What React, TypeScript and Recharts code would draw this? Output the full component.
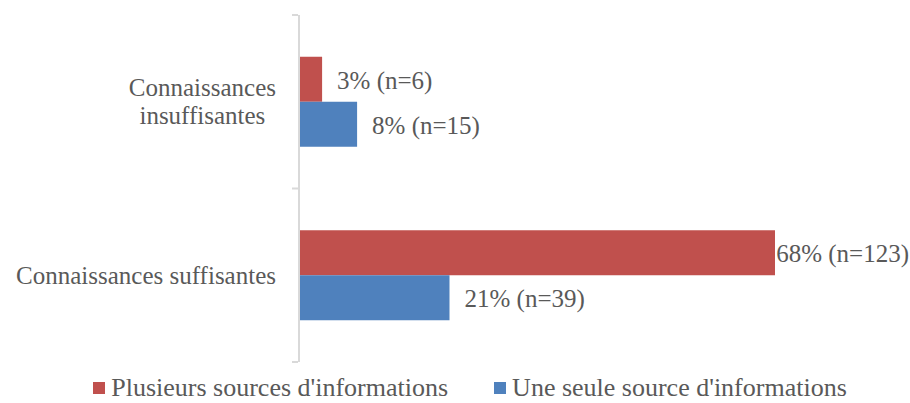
import React from 'react';
import { BarChart, Bar, XAxis, YAxis, Legend, LabelList } from 'recharts';

// ---- data ----
const categories = ['Connaissances insuffisantes', 'Connaissances suffisantes'];
const categoryLines = [['Connaissances', 'insuffisantes'], ['Connaissances suffisantes']];
const seriesNames = ["Plusieurs sources d'informations", "Une seule source d'informations"];
const plusieursValues = [3.3, 68.0];
const uneSeuleValues = [8.3, 21.5];
const plusieursLabels = ['3% (n=6)', '68% (n=123)'];
const uneSeuleLabels = ['8% (n=15)', '21% (n=39)'];
const xDomain = [0, 80];

const data = categories.map((c, i) => ({
  category: c,
  plusieurs: plusieursValues[i],
  uneSeule: uneSeuleValues[i],
  lblP: plusieursLabels[i],
  lblU: uneSeuleLabels[i],
}));

// ---- style ----
const W = 910;
const H = 403;
const FONT = "'Liberation Serif', 'Times New Roman', serif";
const FS = 25;
const LEG_FS = 26;
const TEXT = '#595959';
const AXIS = '#D9D9D9';
const RED = '#C0504D';
const BLUE = '#4F81BD';
const Y_W = 299;
const PLOT_TOP = 15;
const PLOT_BOTTOM = 362;
const LEGEND_H = 28;
const MARGIN = { top: PLOT_TOP, right: 51, bottom: H - PLOT_BOTTOM - LEGEND_H, left: 0 };

let ctx: CanvasRenderingContext2D | null = null;
function textWidth(s: string): number {
  if (!ctx) {
    const c = document.createElement('canvas');
    ctx = c.getContext('2d');
  }
  if (!ctx) return s.length * FS * 0.45;
  ctx.font = `${FS}px 'Liberation Serif'`;
  return ctx.measureText(s).width;
}

const CategoryTick = (props: any) => {
  const { y, payload } = props;
  const idx = categories.indexOf(payload?.value);
  const lines = categoryLines[idx >= 0 ? idx : 0];
  const band = (PLOT_BOTTOM - PLOT_TOP) / categories.length;
  const half = band / 2;
  const n = lines.length;
  const R = Y_W - 23;
  const capHalf = 8.3;
  const maxW = Math.max(...lines.map(textWidth));
  const isLast = idx === categories.length - 1;
  return (
    <g>
      <line x1={Y_W - 7} x2={Y_W - 1} y1={y - half} y2={y - half} stroke={AXIS} strokeWidth={2} />
      {isLast && (
        <line x1={Y_W - 7} x2={Y_W - 1} y1={y + half} y2={y + half} stroke={AXIS} strokeWidth={2} />
      )}
      {lines.map((ln, i) => (
        <text
          key={i}
          x={n === 1 ? R : R - maxW / 2}
          y={y + capHalf + (i - (n - 1) / 2) * 28}
          textAnchor={n === 1 ? 'end' : 'middle'}
          fill={TEXT}
          fontFamily={FONT}
          fontSize={FS}
        >
          {ln}
        </text>
      ))}
    </g>
  );
};

const BarLabel = (props: any) => {
  const vb = props.viewBox || {};
  const x = props.x ?? vb.x;
  const y = props.y ?? vb.y;
  const width = props.width ?? vb.width;
  const height = props.height ?? vb.height;
  const value = String(props.value);
  const w = textWidth(value);
  let tx = x + width + 15;
  let anchor: 'start' | 'end' = 'start';
  if (tx + w > W - 2) {
    tx = W - 1;
    anchor = 'end';
  }
  return (
    <text
      x={tx}
      y={y + height / 2 + 1}
      dominantBaseline="central"
      textAnchor={anchor}
      fill={TEXT}
      fontFamily={FONT}
      fontSize={FS}
    >
      {value}
    </text>
  );
};

const LegendContent = (props: any) => {
  const payload = props.payload || [];
  return (
    <div
      style={{
        display: 'flex',
        justifyContent: 'center',
        alignItems: 'center',
        height: LEGEND_H,
        lineHeight: `${LEGEND_H}px`,
        paddingLeft: 30,
        fontFamily: FONT,
        fontSize: LEG_FS,
        color: TEXT,
        whiteSpace: 'nowrap',
      }}
    >
      {payload.map((p: any, i: number) => (
        <div key={i} style={{ display: 'flex', alignItems: 'center', marginLeft: i ? 46 : 0 }}>
          <span style={{ display: 'inline-block', width: 12, height: 12, background: p.color, marginRight: 6 }} />
          <span>{p.value}</span>
        </div>
      ))}
    </div>
  );
};

export default function App() {
  return (
    <div style={{ position: 'absolute', left: 0, top: 0, width: W, height: H, background: '#fff' }}>
      <BarChart
        width={W}
        height={H}
        data={data}
        layout="vertical"
        margin={MARGIN}
        barCategoryGap="24%"
        barGap={0}
        style={{ fontFamily: FONT }}
      >
        <XAxis type="number" domain={xDomain} hide />
        <YAxis
          type="category"
          dataKey="category"
          width={Y_W}
          axisLine={{ stroke: AXIS, strokeWidth: 2 }}
          tickLine={false}
          interval={0}
          tick={<CategoryTick />}
        />
        <Legend
          verticalAlign="bottom"
          height={LEGEND_H}
          content={<LegendContent />}
          wrapperStyle={{ top: 374, bottom: 'auto', left: 0, width: W, height: LEGEND_H }}
        />
        <Bar dataKey="plusieurs" name={seriesNames[0]} fill={RED} isAnimationActive={false}>
          <LabelList dataKey="lblP" content={<BarLabel />} />
        </Bar>
        <Bar dataKey="uneSeule" name={seriesNames[1]} fill={BLUE} isAnimationActive={false}>
          <LabelList dataKey="lblU" content={<BarLabel />} />
        </Bar>
      </BarChart>
    </div>
  );
}
